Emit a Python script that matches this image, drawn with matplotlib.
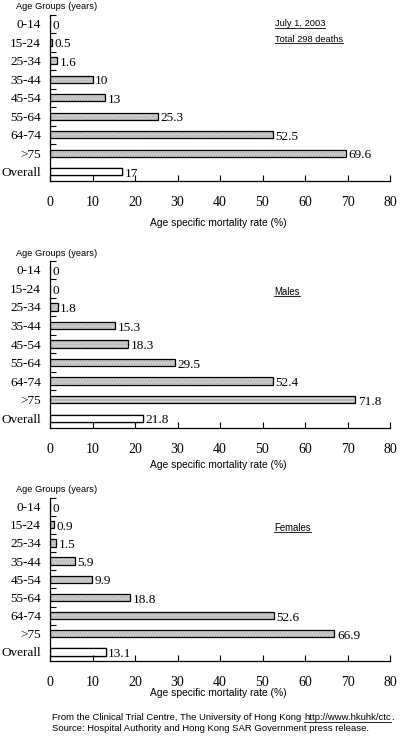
import matplotlib
matplotlib.use("Agg")
import matplotlib.pyplot as plt
from matplotlib.lines import Line2D

groups = ["0-14", "15-24", "25-34", "35-44", "45-54", "55-64", "64-74", ">75", "Overall"]
all_rates = [0, 0.5, 1.6, 10, 13, 25.3, 52.5, 69.6, 17]
male_rates = [0, 0, 1.8, 15.3, 18.3, 29.5, 52.4, 71.8, 21.8]
female_rates = [0, 0.9, 1.5, 5.9, 9.9, 18.8, 52.6, 66.9, 13.1]
xticks = [0, 10, 20, 30, 40, 50, 60, 70, 80]

W = 400.0
H = 743.0

fig = plt.figure(figsize=(4.0, 7.43), dpi=100)
serif = "Liberation Serif"
sans = "Liberation Sans"
fs = 9.5


def underline(txt):
    r = fig.canvas.get_renderer()
    bb = txt.get_window_extent(renderer=r)
    inv = fig.transFigure.inverted()
    x0, y0 = inv.transform((bb.x0, bb.y0 + 1))
    x1, y1 = inv.transform((bb.x1, bb.y0 + 1))
    fig.add_artist(Line2D([x0, x1], [y0, y0], transform=fig.transFigure,
                          color="black", linewidth=0.6))


def panel(rates, top, bottom, tick_y, label_y, title_y):
    # top / bottom in pixels from the top of the image
    ax = fig.add_axes([50 / W, 1 - bottom / H, 340 / W, (bottom - top) / H])
    pos = list(range(len(groups)))
    ax.barh(pos[:-1], rates[:-1], height=0.4, color="#d4d4d4",
            edgecolor="#a8a8a8", hatch="......", linewidth=0)
    ax.barh(pos, rates, height=0.4, color="none", edgecolor="black", linewidth=0.9)
    ax.barh(pos[-1:], rates[-1:], height=0.4, color="white", edgecolor="black",
            linewidth=0.9)
    for p, v in zip(pos, rates):
        ax.text(v + 0.6, p + 0.12, "%g" % v, ha="left", va="center", fontsize=fs,
                family=serif)
    ax.set_ylim(len(groups) - 0.5, -0.5)
    ax.set_xlim(0, 80)
    ax.set_yticks(pos)
    ax.set_yticklabels(groups, family=serif, fontsize=fs)
    ax.set_yticks([p - 0.5 for p in pos[:-1]], minor=True)
    ax.tick_params(axis="y", which="major", length=0, pad=6.5)
    ax.tick_params(axis="y", which="minor", direction="in", length=4, width=0.8)
    ax.set_xticks(xticks)
    ax.set_xticklabels([str(t) for t in xticks], family=serif, fontsize=fs + 0.5)
    ax.tick_params(axis="x", direction="in", length=4, width=0.8,
                   pad=(tick_y - bottom - 7) / 1.389)
    ax.spines["top"].set_visible(False)
    ax.spines["right"].set_visible(False)
    ax.spines["left"].set_linewidth(0.9)
    ax.spines["bottom"].set_linewidth(0.9)
    fig.text(57 / W, 1 - title_y / H, "Age Groups (years)", ha="center", va="center",
             fontsize=6.7, family=sans)
    fig.text(218 / W, 1 - label_y / H, "Age specific mortality rate (%)", ha="center",
             va="center", fontsize=7.4, family=sans)
    return ax


panel(all_rates, 14.5, 181, 203, 223, 6.5)
panel(male_rates, 260.5, 427.5, 450, 465, 253)
panel(female_rates, 497.5, 661, 683, 693, 489)

t1 = fig.text(275 / W, 1 - 24 / H, "July 1, 2003", ha="left", va="center",
              fontsize=6.7, family=sans)
t2 = fig.text(275 / W, 1 - 39 / H, "Total 298 deaths", ha="left", va="center",
              fontsize=6.7, family=sans)
t3 = fig.text(274 / W, 1 - 292 / H, "Males", ha="left", va="center",
              fontsize=6.9, family=sans)
t4 = fig.text(274 / W, 1 - 528 / H, "Females", ha="left", va="center",
              fontsize=6.9, family=sans)
for t in [t1, t2, t3, t4]:
    underline(t)

f1 = fig.text(52 / W, 1 - 718 / H,
              "From the Clinical Trial Centre, The University of Hong Kong",
              ha="left", va="center", fontsize=6.8, family=sans)
r = fig.canvas.get_renderer()
bb = f1.get_window_extent(renderer=r)
f2 = fig.text((bb.x1 + 3) / W, 1 - 718 / H, "http://www.hkuhk/ctc", ha="left",
              va="center", fontsize=6.8, family=sans)
underline(f2)
bb2 = f2.get_window_extent(renderer=r)
fig.text(bb2.x1 / W, 1 - 718 / H, ".", ha="left", va="center", fontsize=6.8,
         family=sans)
fig.text(52 / W, 1 - 728.5 / H,
         "Source: Hospital Authority and Hong Kong SAR Government press release.",
         ha="left", va="center", fontsize=6.8, family=sans)

fig.savefig("out.png", dpi=100)
